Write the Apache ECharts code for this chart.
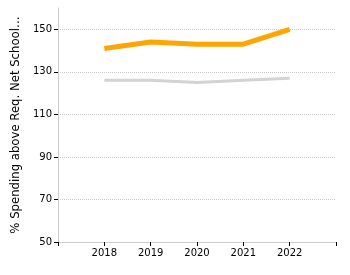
<!DOCTYPE html>
<html>
<head>
<meta charset="utf-8">
<script src="https://cdn.jsdelivr.net/npm/echarts@6/dist/echarts.min.js"></script>
<style>
html,body{margin:0;padding:0;background:#fff;}
#chart{width:350px;height:275px;}
</style>
</head>
<body>
<div id="chart"></div>
<script>
var years = [2018, 2019, 2020, 2021, 2022];
var spendOrange = [141, 144, 143, 143, 150];
var spendGray = [126, 126, 125, 126, 127];
var yTicks = [50, 70, 90, 110, 130, 150];

var chart = echarts.init(document.getElementById('chart'));
var font = 'DejaVu Sans';

function pairs(vals) {
	return years.map(function(y, i) { return [y, vals[i]]; });
}

var option = {
	animation: false,
	grid: { left: 58, right: 14, top: 8, bottom: 33 },
	xAxis: {
		type: 'value',
		min: 2017,
		max: 2023,
		interval: 1,
		axisLine: { lineStyle: { color: '#ccc', width: 1 } },
		axisTick: { show: true, length: 4, lineStyle: { color: '#000' } },
		axisLabel: {
			color: '#000', fontFamily: font, fontSize: 10, margin: 6,
			formatter: function(v) { return years.indexOf(v) >= 0 ? String(v) : ''; }
		},
		splitLine: { show: false }
	},
	yAxis: {
		type: 'value',
		min: 50,
		max: 160,
		name: '% Spending above Req. Net School…',
		nameLocation: 'middle',
		nameGap: 34,
		nameTextStyle: { color: '#000', fontFamily: font, fontSize: 11.7 },
		axisLine: { show: true, lineStyle: { color: '#ccc', width: 1 } },
		axisTick: { show: true, length: 4, customValues: yTicks, lineStyle: { color: '#000' } },
		axisLabel: { color: '#000', fontFamily: font, fontSize: 10, margin: 6, customValues: yTicks },
		splitLine: { show: true, lineStyle: { color: '#ccc', type: 'dotted' } }
	},
	series: [
		{
			type: 'line',
			data: pairs(spendGray),
			symbol: 'none',
			lineStyle: { color: '#d3d3d3', width: 3 },
			z: 2
		},
		{
			type: 'line',
			data: pairs(spendOrange),
			symbol: 'none',
			lineStyle: { color: '#ffa500', width: 5 },
			z: 3
		}
	]
};
chart.setOption(option);
</script>
</body>
</html>
